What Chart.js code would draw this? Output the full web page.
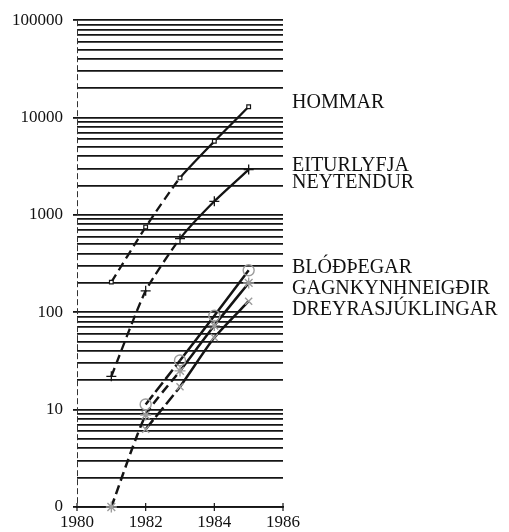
<!DOCTYPE html>
<html>
<head>
<meta charset="utf-8">
<script src="https://cdn.jsdelivr.net/npm/chart.js@4/dist/chart.umd.min.js"></script>
<style>
  html, body { margin: 0; padding: 0; background: #fff; }
</style>
</head>
<body>
<canvas id="c" width="509" height="532"></canvas>
<script>
// Reported and projected cases per year, by group
const years = [1981, 1982, 1983, 1984, 1985];
const hommar = [204, 750, 2400, 5700, 12900];
const eiturlyfjaNeytendur = [22, 166, 570, 1380, 2920];
const blodthegar = [null, 11.3, 32, 92, 270];
const gagnkynhneigdir = [1, 8.8, 25, 73, 200];
const dreyrasjuklingar = [null, 6.3, 17.2, 55, 130];

const seriesLabels = [
  ['HOMMAR'],
  ['EITURLYFJA', 'NEYTENDUR'],
  ['BLÓÐÞEGAR'],
  ['GAGNKYNHNEIGÐIR'],
  ['DREYRASJÚKLINGAR']
];

const xTickYears = [1980, 1982, 1984, 1986];
const yTickValues = [1, 10, 100, 1000, 10000, 100000];
const yTickLabels = ['0', '10', '100', '1000', '10000', '100000'];

// one horizontal rule at every 1..9 step of each decade
const gridValues = [];
for (let d = 0; d < yTickValues.length - 1; d++) {
  for (let k = 1; k <= 9; k++) gridValues.push(k * yTickValues[d]);
}
gridValues.push(yTickValues[yTickValues.length - 1]);

const INK = '#141414';
const FONT = '"Liberation Serif", "Times New Roman", serif';

function points(values) {
  return years.map((yr, i) => ({ x: yr, y: values[i] }));
}
function dashedUpTo(lastIndex, dash) {
  return { borderDash: ctx => (ctx.p1DataIndex <= lastIndex ? dash : undefined) };
}

const datasets = [
  {
    data: points(hommar),
    borderColor: INK, borderWidth: 2.3,
    pointStyle: 'rect', pointRadius: 2.6,
    pointBackgroundColor: '#fff', pointBorderColor: INK, pointBorderWidth: 1.2,
    segment: dashedUpTo(2, [9, 5])
  },
  {
    data: points(eiturlyfjaNeytendur),
    borderColor: INK, borderWidth: 2.3,
    pointStyle: 'cross', pointRadius: 5,
    pointBorderColor: INK, pointBorderWidth: 1.3,
    segment: dashedUpTo(2, [9, 5])
  },
  {
    data: points(blodthegar),
    borderColor: INK, borderWidth: 2.5,
    pointStyle: 'circle', pointRadius: 5.5,
    pointBackgroundColor: 'rgba(255,255,255,0)', pointBorderColor: '#9c9c9c', pointBorderWidth: 1.4,
    segment: dashedUpTo(2, [12, 4])
  },
  {
    data: points(gagnkynhneigdir),
    borderColor: INK, borderWidth: 2.5,
    pointStyle: 'star', pointRadius: 5.5,
    pointBorderColor: '#9c9c9c', pointBorderWidth: 1.4,
    segment: dashedUpTo(2, [9, 5])
  },
  {
    data: points(dreyrasjuklingar),
    borderColor: INK, borderWidth: 2.5,
    pointStyle: 'crossRot', pointRadius: 5,
    pointBorderColor: '#9c9c9c', pointBorderWidth: 1.4,
    segment: dashedUpTo(2, [12, 4])
  }
].map(ds => Object.assign({ fill: false, tension: 0.2, clip: false, spanGaps: false }, ds));

// dashed vertical axis, year tick marks and the group names at the right
const decor = {
  id: 'decor',
  afterDatasetsDraw(chart) {
    const { ctx, chartArea: a, scales } = chart;
    ctx.save();
    ctx.strokeStyle = '#333';
    ctx.lineWidth = 1;
    ctx.setLineDash([6, 3]);
    ctx.beginPath();
    ctx.moveTo(a.left + 0.5, a.top);
    ctx.lineTo(a.left + 0.5, a.bottom);
    ctx.stroke();

    ctx.setLineDash([]);
    ctx.strokeStyle = INK;
    ctx.lineWidth = 1.2;
    xTickYears.forEach(v => {
      const x = scales.x.getPixelForValue(v);
      ctx.beginPath();
      ctx.moveTo(x, a.bottom - 4);
      ctx.lineTo(x, a.bottom + 4);
      ctx.stroke();
    });

    ctx.fillStyle = '#111';
    ctx.font = '20px ' + FONT;
    ctx.textBaseline = 'middle';
    ctx.textAlign = 'left';
    const tx = a.right + 9;
    const rows = [[103], [166, 183], [268], [289], [310]];
    seriesLabels.forEach((lines, i) => {
      lines.forEach((t, j) => ctx.fillText(t, tx, rows[i][j]));
    });
    ctx.restore();
  }
};

new Chart(document.getElementById('c'), {
  type: 'line',
  data: { datasets },
  plugins: [decor],
  options: {
    responsive: false,
    animation: false,
    devicePixelRatio: 1,
    layout: { padding: { left: 0, top: 13, right: 226, bottom: 0 } },
    plugins: { legend: { display: false }, tooltip: { enabled: false } },
    scales: {
      x: {
        type: 'linear', min: 1980, max: 1986,
        afterBuildTicks: s => { s.ticks = xTickYears.map(v => ({ value: v })); },
        afterFit: s => { s.height = 25; },
        grid: { display: false, drawTicks: false },
        border: { display: true, color: INK, width: 1.8 },
        ticks: {
          autoSkip: false, maxRotation: 0, padding: 5, color: '#111',
          font: { family: FONT, size: 17 },
          callback: v => String(v)
        }
      },
      y: {
        type: 'logarithmic', min: 1, max: 100000,
        afterBuildTicks: s => {
          s.ticks = gridValues.map(v => ({ value: v, major: yTickValues.includes(v) }));
        },
        afterFit: s => { s.width = 77; },
        grid: {
          color: INK, lineWidth: 1.8, drawTicks: true, tickLength: 4,
          tickColor: ctx => (ctx.tick && yTickValues.includes(ctx.tick.value) ? INK : 'rgba(0,0,0,0)')
        },
        border: { display: false },
        ticks: {
          autoSkip: false, padding: 10, color: '#111',
          font: { family: FONT, size: 17 },
          callback: v => {
            const i = yTickValues.indexOf(v);
            return i >= 0 ? yTickLabels[i] : '';
          }
        }
      }
    }
  }
});
</script>
</body>
</html>
